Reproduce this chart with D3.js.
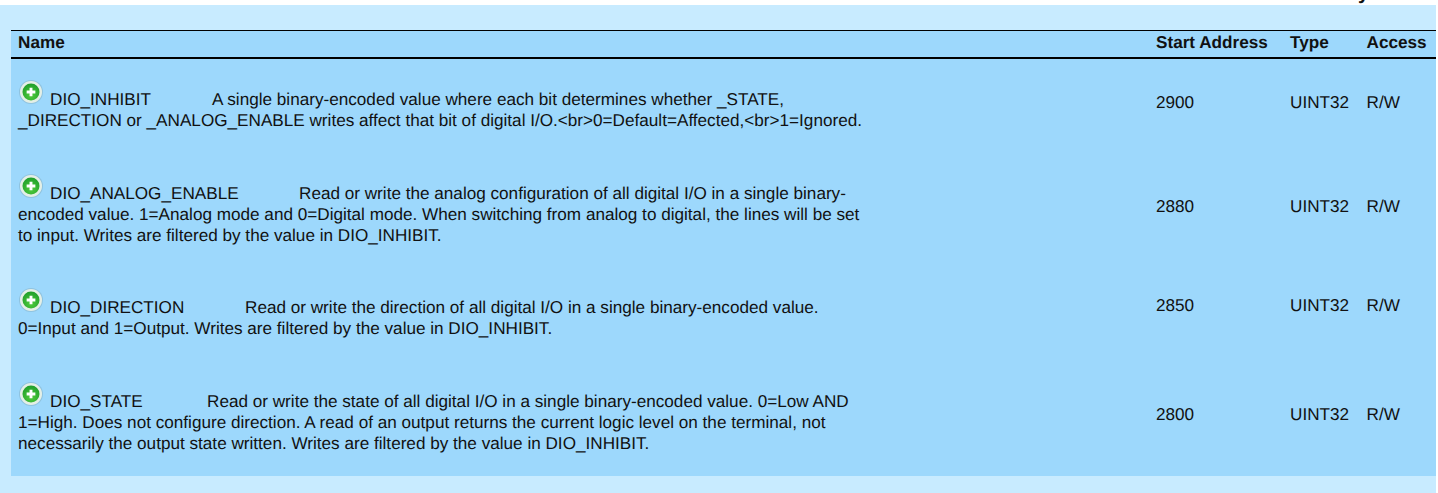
<!DOCTYPE html>
<html>
<head>
<meta charset="utf-8">
<script src="https://cdn.jsdelivr.net/npm/d3@7"></script>
<style>
  html, body { margin: 0; padding: 0; background: #fff; overflow: hidden; }
  text { font-family: "Liberation Sans", Arial, sans-serif; fill: #111; text-rendering: geometricPrecision; }
</style>
</head>
<body>
<div id="data"></div>
<script>
var columns = ["Name", "Start Address", "Type", "Access"];
var names = ["DIO_INHIBIT", "DIO_ANALOG_ENABLE", "DIO_DIRECTION", "DIO_STATE"];
var addresses = ["2900", "2880", "2850", "2800"];
var types = ["UINT32", "UINT32", "UINT32", "UINT32"];
var access = ["R/W", "R/W", "R/W", "R/W"];
var descriptions = [
  ["A single binary-encoded value where each bit determines whether _STATE,",
   "_DIRECTION or _ANALOG_ENABLE writes affect that bit of digital I/O.<br>0=Default=Affected,<br>1=Ignored."],
  ["Read or write the analog configuration of all digital I/O in a single binary-",
   "encoded value. 1=Analog mode and 0=Digital mode. When switching from analog to digital, the lines will be set",
   "to input. Writes are filtered by the value in DIO_INHIBIT."],
  ["Read or write the direction of all digital I/O in a single binary-encoded value.",
   "0=Input and 1=Output. Writes are filtered by the value in DIO_INHIBIT."],
  ["Read or write the state of all digital I/O in a single binary-encoded value. 0=Low AND",
   "1=High. Does not configure direction. A read of an output returns the current logic level on the terminal, not",
   "necessarily the output state written. Writes are filtered by the value in DIO_INHIBIT."]
];
// x where the description starts on the first line of each row
var descStart = [212, 299, 245, 207];

var width = 1438, height = 493;
var fontSize = 17.15;

var svg = d3.select("#data")
  .append("svg")
    .attr("width", width)
    .attr("height", height)
    .style("display", "block");

// Gradient for the expand icon
var defs = svg.append("defs");
var grad = defs.append("radialGradient").attr("id", "green").attr("cy", "70%").attr("r", "70%");
grad.append("stop").attr("offset", "0%").attr("stop-color", "#4fcb3c");
grad.append("stop").attr("offset", "100%").attr("stop-color", "#1f9e2a");

// Page background and table body
svg.append("rect").attr("x", 0).attr("y", 5).attr("width", 1436).attr("height", 488).attr("fill", "#c8ebff");
svg.append("rect").attr("x", 11).attr("y", 30).attr("width", 1425).attr("height", 446).attr("fill", "#9dd8fc");

// Clipped word from the heading above
svg.append("text").attr("x", 1358).attr("y", -1.5).attr("font-size", 20).attr("font-weight", "bold").text("y");

// Header rules
svg.append("rect").attr("x", 11).attr("y", 30).attr("width", 1425).attr("height", 1).attr("fill", "#000");
svg.append("rect").attr("x", 11).attr("y", 57).attr("width", 1425).attr("height", 2).attr("fill", "#000");

var columnX = [18, 1156, 1290, 1366.5];
svg.selectAll(".head")
  .data(columns)
  .enter()
  .append("text")
    .attr("class", "head")
    .attr("x", function(d, i) { return columnX[i]; })
    .attr("y", 48)
    .attr("font-size", fontSize)
    .attr("font-weight", "bold")
    .text(function(d) { return d; });

var lineHeight = 21;
var firstBaseline = [105, 199, 313, 407];
var cellBaseline = [108, 212, 311, 420];

var rows = svg.selectAll(".row")
  .data(names)
  .enter()
  .append("g")
    .attr("class", "row");

// Expand icon
rows.append("circle")
  .attr("cx", 31)
  .attr("cy", function(d, i) { return firstBaseline[i] - 13; })
  .attr("r", 12)
  .attr("fill", "#7fa8bd")
  .attr("opacity", 0.45);
rows.append("circle")
  .attr("cx", 31)
  .attr("cy", function(d, i) { return firstBaseline[i] - 13; })
  .attr("r", 11)
  .attr("fill", "#e4efe6");
rows.append("circle")
  .attr("cx", 31)
  .attr("cy", function(d, i) { return firstBaseline[i] - 13; })
  .attr("r", 8.5)
  .attr("fill", "url(#green)");
rows.append("path")
  .attr("d", d3.symbol(d3.symbolCross, 42))
  .attr("transform", function(d, i) { return "translate(31," + (firstBaseline[i] - 13) + ")"; })
  .attr("fill", "#fff");

rows.append("text")
  .attr("x", 50)
  .attr("y", function(d, i) { return firstBaseline[i]; })
  .attr("font-size", fontSize)
  .text(function(d) { return d; });

rows.each(function(d, i) {
  var row = d3.select(this);
  descriptions[i].forEach(function(line, j) {
    row.append("text")
      .attr("x", j == 0 ? descStart[i] : 18)
      .attr("y", firstBaseline[i] + j * lineHeight)
      .attr("font-size", fontSize)
      .text(line);
  });
  row.append("text").attr("x", columnX[1]).attr("y", cellBaseline[i]).attr("font-size", fontSize).text(addresses[i]);
  row.append("text").attr("x", columnX[2]).attr("y", cellBaseline[i]).attr("font-size", fontSize).text(types[i]);
  row.append("text").attr("x", columnX[3]).attr("y", cellBaseline[i]).attr("font-size", fontSize).text(access[i]);
});
</script>
</body>
</html>
